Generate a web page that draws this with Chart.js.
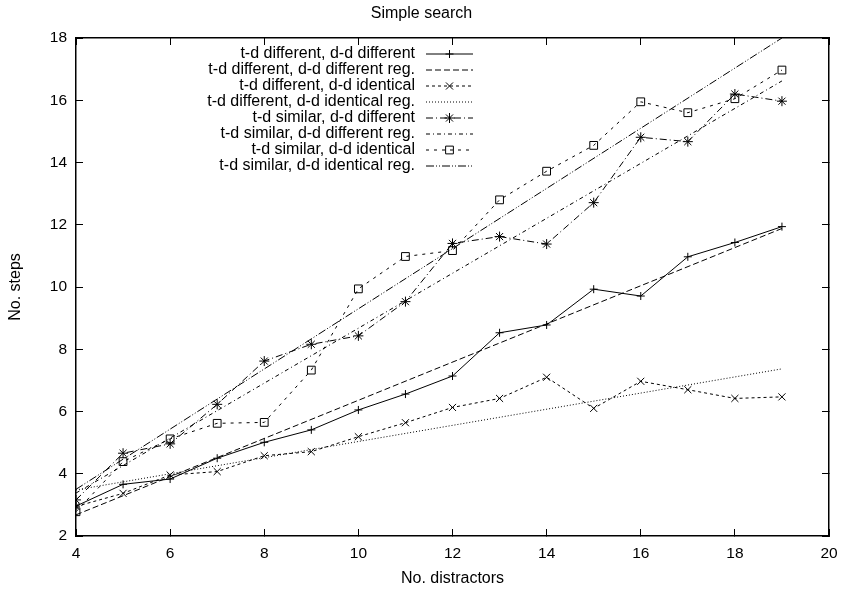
<!DOCTYPE html>
<html>
<head>
<meta charset="utf-8">
<script src="https://cdn.jsdelivr.net/npm/chart.js@4.4.1/dist/chart.umd.min.js"></script>
<style>
  html, body { margin: 0; padding: 0; background: #fff; }
  canvas { display: block; }
</style>
</head>
<body>
<canvas id="searchChart" width="843" height="591"></canvas>
<script>
const FONT = "'Liberation Sans', Arial, Helvetica, sans-serif";

// number of distractors on the x axis
const distractors = [4, 5, 6, 7, 8, 9, 10, 11, 12, 13, 14, 15, 16, 17, 18, 19];

// measured number of steps
const diffDiff = [2.96, 3.66, 3.83, 4.50, 5.01, 5.41, 6.05, 6.56, 7.14, 8.53, 8.78, 9.93, 9.71, 10.97, 11.43, 11.94];
const diffIdent = [2.95, 3.37, 3.96, 4.07, 4.58, 4.71, 5.19, 5.64, 6.13, 6.42, 7.10, 6.10, 6.97, 6.70, 6.42, 6.47];
const simDiff = [3.16, 4.66, 4.96, 6.23, 7.62, 8.16, 8.43, 9.53, 11.40, 11.62, 11.38, 12.71, 14.81, 14.67, 16.20, 15.97];
const simIdent = [2.78, 4.39, 5.12, 5.62, 5.65, 7.33, 9.94, 10.98, 11.17, 12.80, 13.72, 14.55, 15.95, 15.60, 16.05, 16.97];

// regression lines, value at first and last distractor count
const regX = [4, 19];
const diffDiffReg = [2.68, 11.88];
const diffIdentReg = [3.48, 7.37];
const simDiffReg = [3.38, 16.62];
const simIdentReg = [3.50, 18.0];

const xTicks = [4, 6, 8, 10, 12, 14, 16, 18, 20];
const yTicks = [2, 4, 6, 8, 10, 12, 14, 16, 18];

const toPoints = (xs, ys) => xs.map((x, i) => ({ x, y: ys[i] }));

function series(label, xs, ys, dash, pointStyle, radius) {
  return {
    label,
    data: toPoints(xs, ys),
    borderColor: '#000',
    borderWidth: 1,
    borderDash: dash,
    pointStyle: pointStyle || 'circle',
    pointRadius: radius || 0,
    pointBorderColor: '#000',
    pointBackgroundColor: 'rgba(0,0,0,0)',
    pointBorderWidth: 1,
    tension: 0,
    fill: false
  };
}

const datasets = [
  series('t-d different, d-d different', distractors, diffDiff, [], 'cross', 4),
  series('t-d different, d-d different reg.', regX, diffDiffReg, [6, 3]),
  series('t-d different, d-d identical', distractors, diffIdent, [3, 3], 'crossRot', 5),
  series('t-d different, d-d identical reg.', regX, diffIdentReg, [1, 2]),
  series('t-d similar, d-d different', distractors, simDiff, [7, 3, 1, 3], 'star', 5),
  series('t-d similar, d-d different reg.', regX, simDiffReg, [4, 3, 1, 3]),
  series('t-d similar, d-d identical', distractors, simIdent, [3, 5], 'rect', 5.5),
  series('t-d similar, d-d identical reg.', regX, simIdentReg, [8, 2, 1, 2, 1, 2])
];

// gnuplot style key: right aligned text, line sample to the right
const keyPlugin = {
  id: 'gnuplotKey',
  afterDatasetsDraw(chart, args, opts) {
    const { ctx } = chart;
    ctx.save();
    ctx.font = `${opts.fontSize}px ${FONT}`;
    ctx.textAlign = 'right';
    ctx.textBaseline = 'middle';
    chart.data.datasets.forEach((ds, i) => {
      const y = opts.top + i * opts.rowHeight;
      ctx.fillStyle = '#000';
      ctx.fillText(ds.label, opts.textRight, y);
      ctx.beginPath();
      ctx.setLineDash(ds.borderDash);
      ctx.lineWidth = ds.borderWidth;
      ctx.strokeStyle = ds.borderColor;
      ctx.moveTo(opts.sampleLeft, y);
      ctx.lineTo(opts.sampleRight, y);
      ctx.stroke();
      ctx.setLineDash([]);
      if (ds.pointRadius > 0) {
        ctx.fillStyle = 'rgba(0,0,0,0)';
        Chart.helpers.drawPoint(ctx, { pointStyle: ds.pointStyle, radius: ds.pointRadius, borderWidth: 1, rotation: 0 },
          (opts.sampleLeft + opts.sampleRight) / 2, y);
      }
    });
    ctx.restore();
  }
};

const axisGrid = { drawOnChartArea: false, tickLength: -7, color: '#000', lineWidth: 1 };
const axisBorder = { color: '#000', width: 1.5 };
const tickFont = { family: FONT, size: 15.5 };

// fixed box sizes so the plot frame lands where the reference has it
const fitH = (h) => (s) => { s.height = h; s.paddingLeft = 0; s.paddingRight = 0; };
const fitV = (w) => (s) => { s.width = w; s.paddingTop = 0; s.paddingBottom = 0; };

new Chart(document.getElementById('searchChart'), {
  type: 'line',
  data: { datasets },
  options: {
    responsive: false,
    animation: false,
    layout: { padding: 0 },
    plugins: {
      legend: { display: false },
      tooltip: { enabled: false },
      title: {
        display: true, text: 'Simple search', color: '#000',
        font: { family: FONT, size: 16, weight: 'normal' },
        padding: { top: 4, bottom: 0 }
      },
      gnuplotKey: { fontSize: 16, top: 54, rowHeight: 16, textRight: 415, sampleLeft: 426, sampleRight: 473 }
    },
    scales: {
      x: {
        type: 'linear', position: 'bottom', min: 4, max: 20,
        afterBuildTicks: (s) => { s.ticks = xTicks.map(v => ({ value: v })); },
        afterFit: fitH(55),
        ticks: { color: '#000', font: tickFont, padding: 15, maxRotation: 0 },
        grid: axisGrid, border: axisBorder,
        title: { display: true, text: 'No. distractors', color: '#000', font: { family: FONT, size: 16 }, padding: { top: 0, bottom: 3 } }
      },
      x2: {
        type: 'linear', position: 'top', min: 4, max: 20,
        afterBuildTicks: (s) => { s.ticks = xTicks.map(v => ({ value: v })); },
        afterFit: fitH(14.8),
        ticks: { display: false },
        grid: axisGrid, border: axisBorder
      },
      y: {
        type: 'linear', position: 'left', min: 2, max: 18,
        afterBuildTicks: (s) => { s.ticks = yTicks.map(v => ({ value: v })); },
        afterFit: fitV(76),
        ticks: { color: '#000', font: tickFont, padding: 16 },
        grid: axisGrid, border: axisBorder,
        title: { display: true, text: 'No. steps', color: '#000', font: { family: FONT, size: 16 }, padding: { top: 6, bottom: 0 } }
      },
      y2: {
        type: 'linear', position: 'right', min: 2, max: 18,
        afterBuildTicks: (s) => { s.ticks = yTicks.map(v => ({ value: v })); },
        afterFit: fitV(14),
        ticks: { display: false },
        grid: axisGrid, border: axisBorder
      }
    }
  },
  plugins: [keyPlugin]
});
</script>
</body>
</html>
